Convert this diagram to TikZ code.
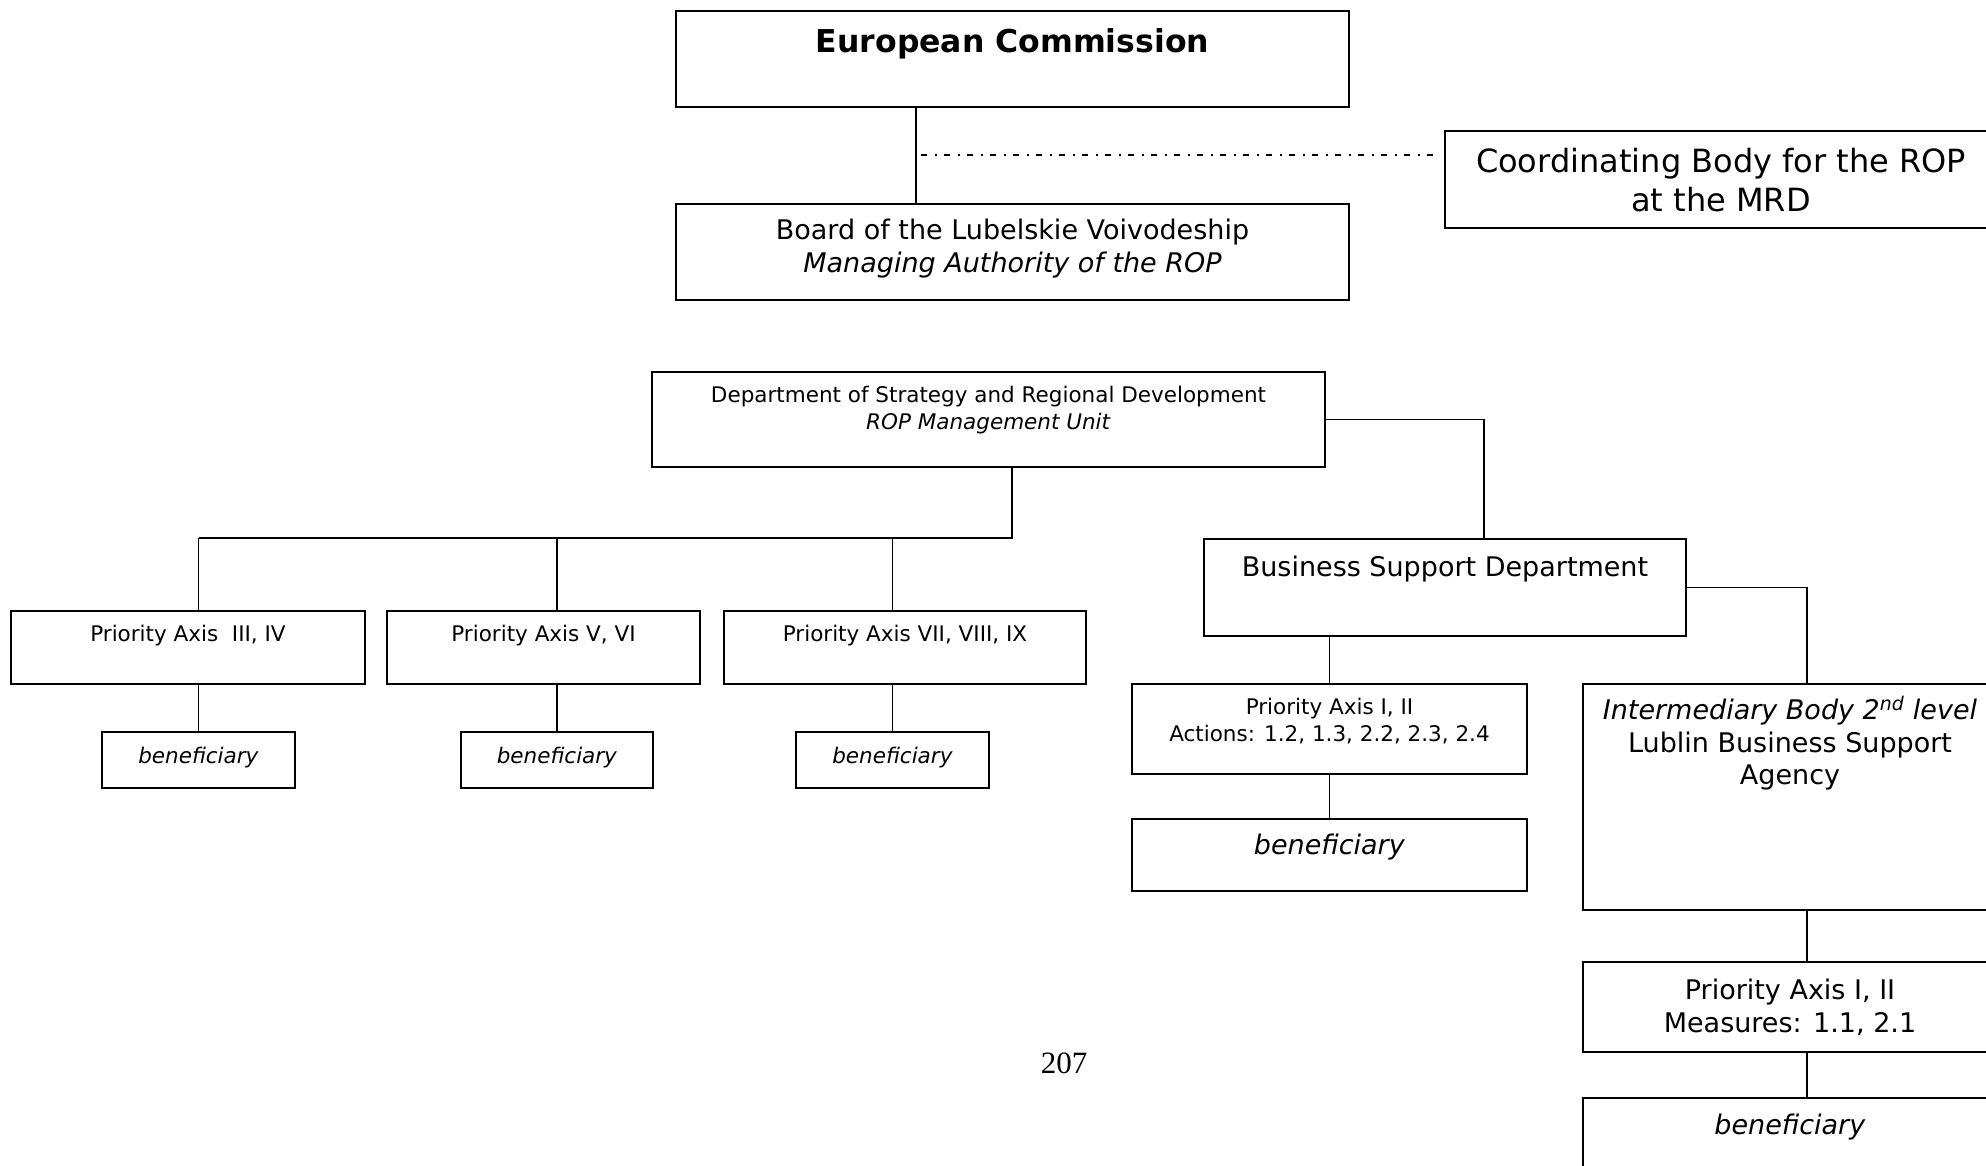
\documentclass[tikz,border=0pt]{standalone}
\usepackage{fontspec}
\setmainfont{DejaVu Sans}
\newfontfamily\pagenumfont{Liberation Serif}

\tikzset{
  orgbox/.style 2 args={draw, line width=2pt, inner sep=0pt, anchor=north west,
    minimum width=#1pt, minimum height=#2pt},
  caption/.style={anchor=north, inner sep=0pt, align=center},
  bigtext/.style={font=\fontsize{32}{38.5}\selectfont},
  midtext/.style={font=\fontsize{27}{32.5}\selectfont},
  smalltext/.style={font=\fontsize{21.5}{26.5}\selectfont},
  link/.style={line width=1.9pt},
  coordlink/.style={line width=1.6pt, dash pattern=on 6pt off 7.5pt on 2pt off 7.5pt},
}

\begin{document}
\begin{tikzpicture}[x=1pt, y=-1pt]
\useasboundingbox (0,0) rectangle (1986,1165);
\clip (0,0) rectangle (1986,1165);

\node[orgbox={673}{96}] (ec) at (675,10) {};
\node[orgbox={673}{96}] (board) at (675,203) {};
\node[orgbox={552}{97}] (cb) at (1444,130) {};
\node[orgbox={673}{95}] (dept) at (651,371) {};
\node[orgbox={354}{73}] (pa1) at (10,610) {};
\node[orgbox={313}{73}] (pa2) at (386,610) {};
\node[orgbox={362}{73}] (pa3) at (723,610) {};
\node[orgbox={193}{56}] (ben1) at (101,731) {};
\node[orgbox={192}{56}] (ben2) at (460,731) {};
\node[orgbox={193}{56}] (ben3) at (795,731) {};
\node[orgbox={482}{97}] (bsd) at (1203,538) {};
\node[orgbox={395}{90}] (act) at (1131,683) {};
\node[orgbox={395}{72}] (ben4) at (1131,818) {};
\node[orgbox={414}{226}] (ib) at (1582,683) {};
\node[orgbox={414}{90}] (meas) at (1582,961) {};
\node[orgbox={414}{75}] (ben5) at (1582,1097) {};

\node[caption, font=\fontsize{31.5}{38}\selectfont\bfseries] (ec-t) at ([yshift=-18pt]ec.north) {European Commission};
\node[caption, midtext] (board-t) at ([yshift=-16pt]board.north) {Board of the Lubelskie Voivodeship\\\textit{Managing Authority of the ROP}};
\node[caption, bigtext] (cb-t) at ([yshift=-18pt]cb.north) {Coordinating Body for the ROP\\at the MRD};
\node[caption, smalltext] (dept-t) at ([yshift=-15pt]dept.north) {Department of Strategy and Regional Development\\\textit{ROP Management Unit}};
\node[caption, smalltext] (pa1-t) at ([yshift=-15pt]pa1.north) {Priority Axis\ \ III, IV};
\node[caption, smalltext] (pa2-t) at ([yshift=-15pt]pa2.north) {Priority Axis V, VI};
\node[caption, smalltext] (pa3-t) at ([yshift=-15pt]pa3.north) {Priority Axis VII, VIII, IX};
\foreach \i in {1,2,3}
  \node[caption, smalltext] (ben\i-t) at ([yshift=-16pt]ben\i.north) {\textit{beneficiary}};
\node[caption, midtext] (bsd-t) at ([yshift=-18pt]bsd.north) {Business Support Department};
\node[caption, smalltext] (act-t) at ([yshift=-15pt]act.north) {Priority Axis I, II\\Actions: 1.2, 1.3, 2.2, 2.3, 2.4};
\node[caption, midtext] (ben4-t) at ([yshift=-16pt]ben4.north) {\textit{beneficiary}};
\node[caption, midtext] (ib-t) at ([yshift=-13pt]ib.north) {\textit{Intermediary Body 2\textsuperscript{nd} level}\\Lublin Business Support\\Agency};
\node[caption, midtext] (meas-t) at ([yshift=-18pt]meas.north) {Priority Axis I, II\\Measures: 1.1, 2.1};
\node[caption, midtext] (ben5-t) at ([yshift=-17pt]ben5.north) {\textit{beneficiary}};

\node[font=\pagenumfont\fontsize{31}{37}\selectfont] (page) at (1064,1063) {207};

\draw[link] ([xshift=-96.5pt]ec.south) -- ([xshift=-96.5pt]board.north);
\coordinate (tap) at (921,155);
\draw[coordlink] (tap) -- ([xshift=-6pt]tap -| cb.west);

\coordinate (bus) at (1012,538);
\draw[link] (dept.south -| bus) -- (bus) -- (bus -| ben1.north);
\foreach \i in {1,2,3}
  \draw[link] (ben\i.north |- bus) -- (ben\i.north |- pa\i.north)
              (ben\i.north |- pa\i.south) -- (ben\i.north);

\draw[link] (dept.east) -| ([xshift=39pt]bsd.north);
\draw[link] (bsd.east) -| ([xshift=17pt]ib.north);
\draw[link] (act.north |- bsd.south) -- (act.north);
\draw[link] (act.south) -- (ben4.north);
\draw[link] ([xshift=17pt]ib.south) -- ([xshift=17pt]meas.north);
\draw[link] ([xshift=17pt]meas.south) -- ([xshift=17pt]ben5.north);
\end{tikzpicture}
\end{document}
